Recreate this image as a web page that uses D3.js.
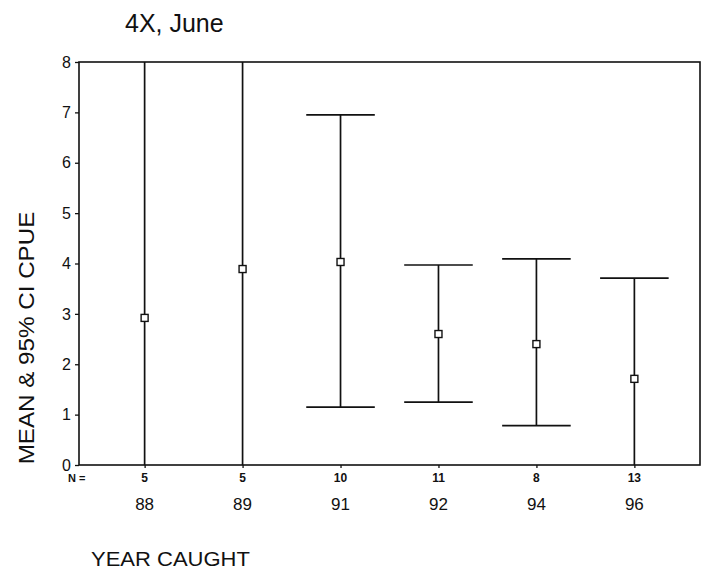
<!DOCTYPE html>
<html>
<head>
<meta charset="utf-8">
<script src="https://cdn.jsdelivr.net/npm/d3@7/dist/d3.min.js"></script>
<style>
  html, body { margin: 0; padding: 0; background: #fff; }
  svg { display: block; }
  text { font-family: "Liberation Sans", Arial, sans-serif; fill: #111; }
</style>
</head>
<body>
<svg id="chart" width="705" height="570"></svg>
<script>
// CPUE by year caught: sample size, mean and 95% confidence interval
const years  = ["88", "89", "91", "92", "94", "96"];
const counts = [5, 5, 10, 11, 8, 13];
const means  = [2.92, 3.89, 4.03, 2.60, 2.40, 1.71];
const lower  = [-2.6, -2.2, 1.15, 1.25, 0.78, -0.3];
const upper  = [8.45, 10.0, 6.95, 3.97, 4.09, 3.71];
const yTicks = [0, 1, 2, 3, 4, 5, 6, 7, 8];

const svg = d3.select("#chart");
const plotL = 79, plotR = 700, plotT = 62, plotB = 465;

const x = d3.scalePoint().domain(years).range([plotL, plotR]).padding(0.67);
const y = d3.scaleLinear().domain([0, 8]).range([plotB, plotT]);
const capHalf = x.step() * 0.35;

svg.append("defs").append("clipPath").attr("id", "plotClip")
  .append("rect").attr("x", plotL).attr("y", plotT)
  .attr("width", plotR - plotL).attr("height", plotB - plotT);

// frame
svg.append("rect")
  .attr("x", plotL).attr("y", plotT)
  .attr("width", plotR - plotL).attr("height", plotB - plotT)
  .attr("fill", "none").attr("stroke", "#111").attr("stroke-width", 1.6);

// y axis
const yAxis = svg.append("g")
  .attr("transform", `translate(${plotL},0)`)
  .call(d3.axisLeft(y).tickValues(yTicks).tickSize(4).tickPadding(4));
yAxis.select(".domain").remove();
yAxis.selectAll("line").attr("stroke", "#111").attr("stroke-width", 1.3);
yAxis.selectAll("text").attr("font-size", 16).attr("fill", "#111")
  .style("font-family", "'Liberation Sans', Arial, sans-serif");

// x axis ticks
const xAxis = svg.append("g")
  .attr("transform", `translate(0,${plotB})`)
  .call(d3.axisBottom(x).tickSize(3).tickFormat(""));
xAxis.select(".domain").remove();
xAxis.selectAll("line").attr("stroke", "#111").attr("stroke-width", 1.3);

// error bars
const data = years.map((yr, i) => ({ yr, n: counts[i], m: means[i], lo: lower[i], hi: upper[i] }));
const bars = svg.append("g").attr("clip-path", "url(#plotClip)");
const g = bars.selectAll("g.bar").data(data).join("g").attr("class", "bar");
g.append("line")
  .attr("x1", d => x(d.yr)).attr("x2", d => x(d.yr))
  .attr("y1", d => y(d.lo)).attr("y2", d => y(d.hi))
  .attr("stroke", "#111").attr("stroke-width", 1.7);
g.append("line")
  .attr("x1", d => x(d.yr) - capHalf).attr("x2", d => x(d.yr) + capHalf)
  .attr("y1", d => y(d.hi)).attr("y2", d => y(d.hi))
  .attr("stroke", "#111").attr("stroke-width", 1.7);
g.append("line")
  .attr("x1", d => x(d.yr) - capHalf).attr("x2", d => x(d.yr) + capHalf)
  .attr("y1", d => y(d.lo)).attr("y2", d => y(d.lo))
  .attr("stroke", "#111").attr("stroke-width", 1.7);
g.append("rect")
  .attr("x", d => x(d.yr) - 3.5).attr("y", d => y(d.m) - 3.5)
  .attr("width", 7).attr("height", 7)
  .attr("fill", "#fff").attr("stroke", "#111").attr("stroke-width", 1.4);

// N row
svg.append("text").attr("x", 68).attr("y", 482)
  .attr("font-size", 11).attr("font-weight", "bold").text("N =");
svg.selectAll("text.n").data(data).join("text").attr("class", "n")
  .attr("x", d => x(d.yr)).attr("y", 482)
  .attr("text-anchor", "middle").attr("font-size", 12).attr("font-weight", "bold")
  .text(d => d.n);

// year labels
svg.selectAll("text.yr").data(data).join("text").attr("class", "yr")
  .attr("x", d => x(d.yr)).attr("y", 510)
  .attr("text-anchor", "middle").attr("font-size", 17)
  .text(d => d.yr);

// titles
svg.append("text").attr("x", 125).attr("y", 32)
  .attr("font-size", 25).text("4X, June");

svg.append("text")
  .attr("transform", `translate(34,338) rotate(-90) scale(1.1,1)`)
  .attr("text-anchor", "middle").attr("font-size", 22)
  .text("MEAN & 95% CI CPUE");

svg.append("text")
  .attr("transform", `translate(91,566) scale(1.1,1)`)
  .attr("font-size", 20).text("YEAR CAUGHT");
</script>
</body>
</html>
